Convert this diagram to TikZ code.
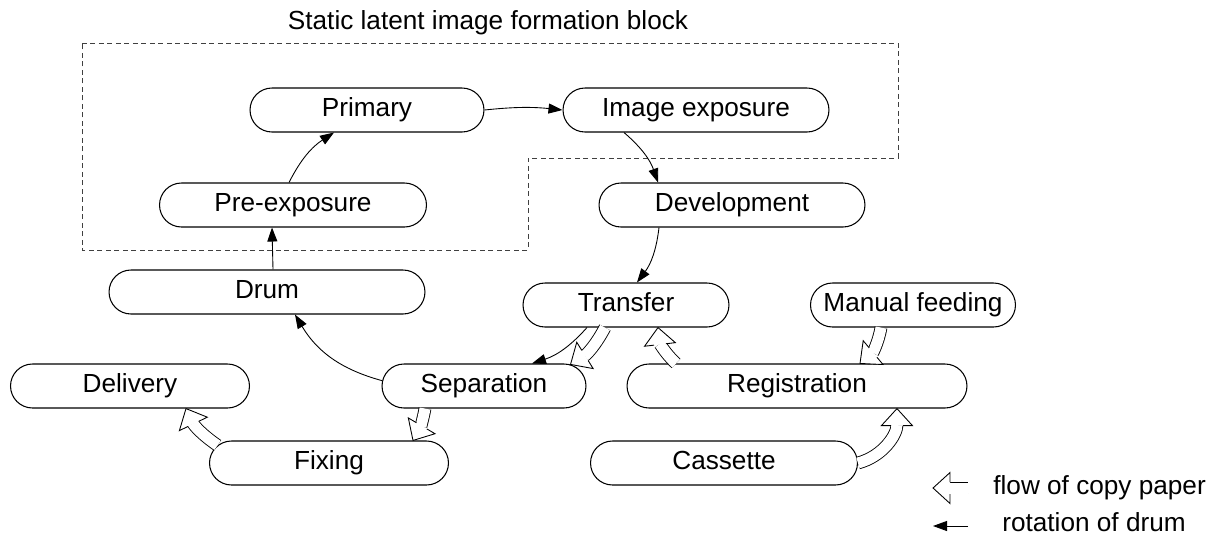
\documentclass[tikz,border=0pt]{standalone}
\usepackage{fontspec}
\setmainfont{Liberation Sans}
\usetikzlibrary{arrows.meta,shapes.misc,decorations.markings}

\begin{document}
\begin{tikzpicture}[
  x=0.02cm,y=0.02cm,
  font=\fontsize{14.9}{18}\selectfont,
  stage/.style={rounded rectangle,draw,line width=0.6pt,fill=white,minimum height=0.88cm,inner sep=0pt,text height=0.72em,text depth=0pt},
  drumline/.style={line width=0.5pt,-{Triangle[length=0.28cm,width=0.2cm]}},
  paper/.style={draw,line width=0.5pt,double=white,double distance=0.22cm,shorten >=0.33cm,
    postaction={decorate,decoration={markings,mark=at position 0.999 with
      {\fill[white,shorten >=0pt] (0,0) -- (-0.34cm,0.31cm) -- (-0.34cm,-0.31cm) -- cycle;
       \draw[line width=0.5pt,shorten >=0pt] (-0.34cm,0.12cm) -- (-0.34cm,0.31cm) -- (0,0) -- (-0.34cm,-0.31cm) -- (-0.34cm,-0.12cm);}}}},
  block/.style={line width=0.5pt,draw=black!75,dash pattern=on 0.1cm off 0.07cm}
]
\useasboundingbox (0,0) rectangle (1225,-535);
% Dashed frame round the latent image stages, stages placed on a pixel grid.
\node[anchor=base] (title) at (488,-29) {Static latent image formation block};
\draw[block] (82,-43) -- (898,-43) -- (898,-158) -- (528,-158) -- (528,-250) -- (82,-250) -- cycle;
\node[stage,minimum width=4.68cm] (primary) at (367,-110) {Primary};
\node[stage,minimum width=5.32cm] (imgexp) at (696,-110) {Image exposure};
\node[stage,minimum width=5.34cm] (preexp) at (293,-205) {Pre-exposure};
\node[stage,minimum width=5.32cm] (develop) at (732,-205) {Development};
\node[stage,minimum width=6.32cm] (drum) at (267,-292) {Drum};
\node[stage,minimum width=4.12cm] (transfer) at (626,-305) {Transfer};
\node[stage,minimum width=4.10cm] (manual) at (913,-305) {Manual feeding};
\node[stage,minimum width=4.78cm] (delivery) at (130,-386) {Delivery};
\node[stage,minimum width=4.08cm] (separation) at (484,-386) {Separation};
\node[stage,minimum width=6.80cm] (registration) at (797,-386) {Registration};
\node[stage,minimum width=4.78cm] (fixing) at (329,-463) {Fixing};
\node[stage,minimum width=5.34cm] (cassette) at (724,-463) {Cassette};
\draw[drumline] ([xshift=0.12cm]drum.north) -- ([xshift=-0.42cm]preexp.south);
\draw[drumline] ([xshift=-0.08cm]preexp.north) to[bend left=15] ([xshift=-0.66cm]primary.south);
\draw[drumline] (primary.east) to[bend left=6] (imgexp.west);
\draw[drumline] ([xshift=-1.44cm]imgexp.south) to[bend left=15] ([xshift=-1.48cm]develop.north);
\draw[drumline] ([xshift=-1.46cm]develop.south) to[bend left=15] ([xshift=0.22cm]transfer.north);
\draw[drumline] ([xshift=-0.78cm]transfer.south) to[bend left=15] ([xshift=0.96cm]separation.north);
\draw[drumline] (separation.177) to[bend left=22] ([xshift=0.56cm]drum.south);
\draw[paper] ([xshift=-0.42cm]transfer.south) to[bend left=15] (separation.14);
\draw[paper] ([xshift=-2.42cm]registration.north) to[bend left=20] ([xshift=0.64cm]transfer.south);
\draw[paper] ([xshift=-0.64cm]manual.south) to[bend left=20] ([xshift=1.26cm]registration.north);
\draw[paper] (cassette.east) to[out=15,in=-90] ([xshift=2.0cm]registration.south);
\draw[paper] ([xshift=-1.18cm]separation.south) to[bend left=10] ([xshift=1.68cm]fixing.north);
\draw[paper] (fixing.171) to[bend left=15] ([xshift=1.12cm]delivery.south);
\coordinate (legpaperA) at (968,-488);
\coordinate (legpaperB) at (933,-488);
\draw[paper] (legpaperA) -- (legpaperB);
\node[anchor=base west,inner sep=0pt] (legpaper) at (993,-494) {flow of copy paper};
\coordinate (legdrumA) at (968,-526);
\coordinate (legdrumB) at (933,-526);
\draw[drumline] (legdrumA) -- (legdrumB);
\node[anchor=base west,inner sep=0pt] (legdrum) at (1002,-531) {rotation of drum};
\end{tikzpicture}
\end{document}
